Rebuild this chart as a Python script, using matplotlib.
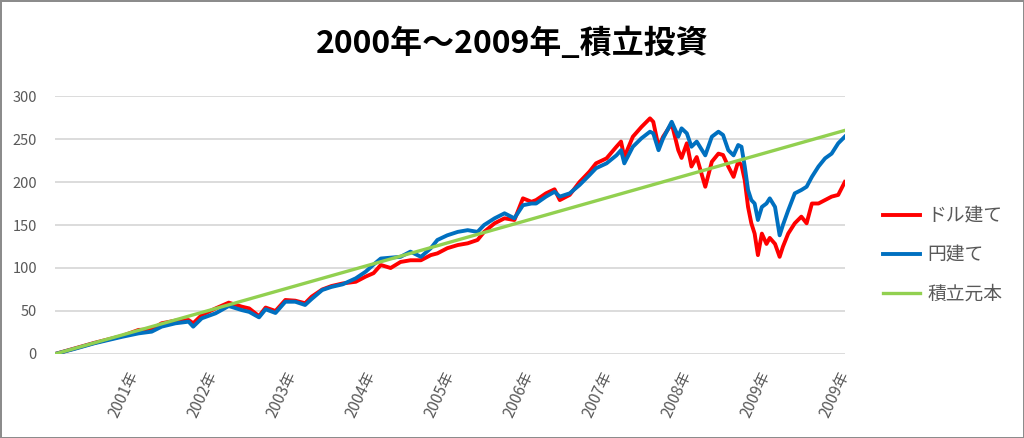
import matplotlib
matplotlib.use('Agg')
from matplotlib import pyplot as plt

plt.rcParams['font.family'] = ['Noto Sans CJK JP', 'DejaVu Sans']

# month index (0 = start, 120 = end) of each point
months = [0, 3, 6, 10.2, 12.7, 14.7, 16.2, 18.3, 20.3, 21, 22.3, 24.4, 26.4, 28.4,
          29.5, 31, 32, 33.5, 35, 36.5, 38, 39, 40.6, 42, 43.7, 45.7, 47.2, 48.4,
          49.5, 51, 52.5, 54, 55.6, 57.1, 58.1, 59.6, 61.2, 62.7, 64.2, 65.2, 66.8,
          68.3, 69.8, 71.1, 72.4, 73.1, 74.6, 75.9, 76.7, 78.2, 79.7, 81.2, 82.2,
          83.8, 85.3, 86, 86.5, 87.8, 89.1, 90.4, 90.9, 91.7, 92.4, 93.7, 94.7,
          95.2, 96, 96.7, 97.5, 98.8, 99.8, 100.8, 101.5, 102.3, 103.1, 103.8,
          104.3, 104.8, 105.3, 105.8, 106.3, 106.8, 107.4, 108.1, 108.6, 109.4,
          110.1, 110.6, 111.4, 112.4, 113.4, 114.2, 115, 116, 117, 118, 119, 120]

dollar = [0, 6.5, 13, 21, 28, 28.7, 35.7, 38.8, 39.5, 35.7, 45.3, 53, 59.7, 55,
          53, 44, 54, 50, 62.8, 62, 59, 66.7, 75, 79, 82, 84, 90, 94,
          103.5, 100, 107, 109, 109, 115, 117, 123, 126.7, 128.7, 132.6, 142, 152,
          157.8, 155.8, 181, 177, 179, 186.8, 191.5, 179, 185, 200, 212, 221.7,
          227.5, 241, 247, 229, 252.7, 264, 274, 270, 241, 252.7, 268, 237,
          228, 245, 218, 229, 194.5, 223.6, 233, 231.4, 218, 206, 223.6,
          219.8, 202, 171, 152, 140, 115, 140, 128, 135, 128,
          113, 124.8, 140, 152, 159.7, 152, 175, 175, 179, 183, 185, 200]

yen = [0, 6, 12.5, 20, 24, 26, 31.8, 35.7, 37.6, 31.8, 41.5, 47.3, 55.8, 51,
       49, 42.6, 52, 47.7, 60.8, 60.8, 57, 64, 74.4, 78, 81, 88, 95.7, 104,
       111, 112, 113, 119, 113, 123, 132.6, 138, 142, 144, 142, 150, 157.8,
       163.6, 157.8, 173, 175, 175, 183, 188.7, 183, 186.8, 196.5, 208, 216,
       221.7, 231, 237, 221.7, 241, 250.8, 258.5, 256.6, 237, 250.8, 270, 252.7,
       262.4, 256.6, 241, 247, 231, 252.7, 258.5, 254.7, 237, 231, 243,
       241, 218, 190.7, 179, 175, 155.8, 171, 175, 181, 171,
       138, 150, 167, 186.8, 190.7, 194.5, 206, 218, 227.5, 233, 245, 252.7]

principal_months = [0, 120]
principal = [0, 260]

tick_pos = [12, 24, 36, 48, 60, 72, 84, 96, 108, 120]
tick_labels = ['2001年', '2002年', '2003年', '2004年', '2005年',
               '2006年', '2007年', '2008年', '2009年', '2009年']

fig = plt.figure(figsize=(10.24, 4.38), dpi=100)
fig.patch.set_edgecolor('#8c8c8c')
fig.patch.set_linewidth(2)
ax = fig.add_axes([0.0537, 0.1918, 0.7713, 0.589])

ax.plot(months, dollar, color='#ff0000', lw=2.8, label='ドル建て')
ax.plot(months, yen, color='#0070c0', lw=2.8, label='円建て')
ax.plot(principal_months, principal, color='#92d050', lw=2.4, label='積立元本')

ax.set_xlim(0, 120)
ax.set_ylim(0, 300)
ax.set_yticks(range(0, 301, 50))
ax.set_xticks(tick_pos)
ax.set_xticklabels(tick_labels, rotation=65, ha='right', va='center',
                   rotation_mode='anchor')
ax.tick_params(axis='x', length=0, pad=13, labelsize=11, labelcolor='#595959')
ax.tick_params(axis='y', length=0, pad=13, labelsize=10.5, labelcolor='#595959')
ax.grid(axis='y', color='#d9d9d9', lw=1.3)
ax.set_axisbelow(True)
for s in ax.spines.values():
    s.set_visible(False)

fig.text(0.5, 0.9, '2000年～2009年_積立投資', ha='center', va='center',
         fontsize=23, fontweight='bold')

fig.legend(loc='center left', bbox_to_anchor=(0.862, 0.418), frameon=False,
           fontsize=13.5, labelcolor='#595959', handlelength=2.0,
           handletextpad=0.4, labelspacing=0.95, borderpad=0, borderaxespad=0)

fig.savefig('out.png', dpi=100)
